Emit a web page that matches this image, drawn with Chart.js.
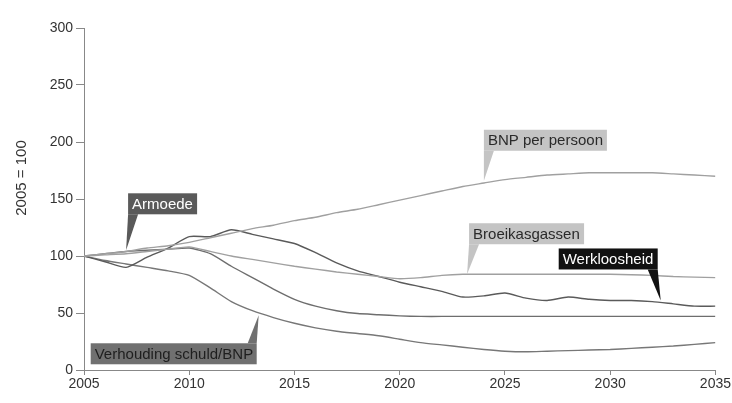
<!DOCTYPE html>
<html>
<head>
<meta charset="utf-8">
<script src="https://cdn.jsdelivr.net/npm/chart.js@4.4.0/dist/chart.umd.min.js"></script>
<style>
  html, body { margin: 0; padding: 0; background: #fff; }
  #wrap { width: 732px; height: 403px; position: relative; }
</style>
</head>
<body>
<div id="wrap"><canvas id="c"></canvas></div>
<script>
// ── Data (index 2005 = 100) ─────────────────────────────────────────────
var years = [2005, 2006, 2007, 2008, 2009, 2010, 2011, 2012, 2013, 2014, 2015,
             2016, 2017, 2018, 2019, 2020, 2021, 2022, 2023, 2024, 2025,
             2026, 2027, 2028, 2029, 2030, 2031, 2032, 2033, 2034, 2035];

var bnpPerPersoon = [100, 102, 104, 107, 109, 112, 116, 120, 124, 127, 131,
                     134, 138, 141, 145, 149, 153, 157, 161, 164, 167,
                     169, 171, 172, 173, 173, 173, 173, 172, 171, 170];
var armoede       = [100, 102, 104, 105, 106, 107, 102, 91, 81, 71, 62,
                     56, 52, 49.5, 48.5, 47.5, 47, 47, 47, 47, 47,
                     47, 47, 47, 47, 47, 47, 47, 47, 47, 47];
var broeikasgassen = [100, 101, 102, 104, 106, 108, 104, 100, 97, 94, 91,
                      88.5, 86, 84, 82, 80, 81, 83, 84, 84, 84,
                      84, 84, 84, 84, 84, 83.5, 83, 82, 81.5, 81];
var werkloosheid  = [100, 95, 90, 99, 107, 117, 117, 123, 119, 115, 111,
                     103, 94, 87, 82, 77, 73, 69, 64, 65, 67.5,
                     63, 61, 64, 62, 61, 61, 60, 58, 56, 56];
var schuldBnp     = [100, 96, 93, 90, 87, 83, 72, 60, 52, 46, 41,
                     37, 34, 32, 30, 27, 24, 22, 20, 18, 16.5,
                     16, 16.5, 17, 17.5, 18, 19, 20, 21, 22.5, 24];

var yTicks = [0, 50, 100, 150, 200, 250, 300];
var xTicks = [2005, 2010, 2015, 2020, 2025, 2030, 2035];
var yTitle = '2005 = 100';

// Callout labels: tip is a data point on the line, box offset from the tip
var callouts = [
  { text: 'Armoede',               year: 2007,   value: 105, bg: '#5a5a5a', fg: '#ffffff', side: 'left',  dx: 2,  dy: -57 },
  { text: 'BNP per persoon',       year: 2024,   value: 166, bg: '#c4c4c4', fg: '#2a2a2a', side: 'left',  dx: 0,  dy: -51 },
  { text: 'Broeikasgassen',        year: 2023.2, value: 84,  bg: '#c4c4c4', fg: '#2a2a2a', side: 'left',  dx: 2,  dy: -51 },
  { text: 'Werkloosheid',          year: 2032.4, value: 61,  bg: '#111111', fg: '#ffffff', side: 'right', dx: -3, dy: -52 },
  { text: 'Verhouding schuld/BNP', year: 2013.3, value: 48,  bg: '#707070', fg: '#1e1e1e', side: 'up',    dx: -2, dy: 28 }
];

function pts(vals) {
  return years.map(function (y, i) { return { x: y, y: vals[i] }; });
}

var FONT = '"Liberation Sans", Arial, sans-serif';

// ── Plugin: callout boxes with pointer + rotated y title ───────────────
var calloutPlugin = {
  id: 'callouts',
  afterDatasetsDraw: function (chart) {
    var ctx = chart.ctx;
    var xs = chart.scales.x, ys = chart.scales.y;
    ctx.save();
    ctx.font = '15px ' + FONT;
    callouts.forEach(function (c) {
      var tx = xs.getPixelForValue(c.year);
      var ty = ys.getPixelForValue(c.value);
      var w = Math.round(ctx.measureText(c.text).width) + 8;
      var h = 21;
      var left = c.side === 'left' ? tx + c.dx : tx + c.dx - w;
      var top = ty + c.dy;
      ctx.fillStyle = c.bg;
      ctx.fillRect(left, top, w, h);
      ctx.beginPath();
      if (c.side === 'left') {
        ctx.moveTo(left, top + h);
        ctx.lineTo(left + 10, top + h);
        ctx.lineTo(tx, ty);
      } else if (c.side === 'right') {
        ctx.moveTo(left + w - 10, top + h);
        ctx.lineTo(left + w, top + h);
        ctx.lineTo(tx, ty);
      } else {
        ctx.moveTo(left + w - 9, top);
        ctx.lineTo(left + w, top);
        ctx.lineTo(tx, ty);
      }
      ctx.closePath();
      ctx.fill();
      ctx.fillStyle = c.fg;
      ctx.textBaseline = 'middle';
      ctx.textAlign = 'left';
      ctx.fillText(c.text, left + 4, top + h / 2 + 1);
    });
    // y axis title, placed as in the reference
    ctx.translate(22, 178);
    ctx.rotate(-Math.PI / 2);
    ctx.font = '15px ' + FONT;
    ctx.fillStyle = '#333';
    ctx.textAlign = 'center';
    ctx.textBaseline = 'middle';
    ctx.fillText(yTitle, 0, 0);
    ctx.restore();
  }
};

function series(label, vals, color) {
  return {
    label: label,
    data: pts(vals),
    borderColor: color,
    borderWidth: 1.4,
    pointRadius: 0,
    tension: 0.2,
    fill: false
  };
}

new Chart(document.getElementById('c'), {
  type: 'line',
  data: {
    datasets: [
      series('BNP per persoon', bnpPerPersoon, '#a0a0a0'),
      series('Broeikasgassen', broeikasgassen, '#a0a0a0'),
      series('Armoede', armoede, '#6e6e6e'),
      series('Werkloosheid', werkloosheid, '#5a5a5a'),
      series('Verhouding schuld/BNP', schuldBnp, '#777777')
    ]
  },
  options: {
    responsive: true,
    maintainAspectRatio: false,
    animation: false,
    layout: { padding: { left: 0, right: 16, top: 28, bottom: 0 } },
    plugins: { legend: { display: false }, tooltip: { enabled: false } },
    scales: {
      x: {
        type: 'linear',
        min: 2005,
        max: 2035,
        afterBuildTicks: function (s) { s.ticks = xTicks.map(function (v) { return { value: v }; }); },
        afterFit: function (s) { s.height = 33; },
        ticks: {
          color: '#333',
          font: { family: FONT, size: 14 },
          padding: 1,
          maxRotation: 0,
          callback: function (v) { return String(v); }
        },
        grid: { drawOnChartArea: false, drawTicks: true, tickLength: 5, color: '#888' },
        border: { display: true, color: '#888', width: 1 }
      },
      y: {
        min: 0,
        max: 300,
        afterBuildTicks: function (s) { s.ticks = yTicks.map(function (v) { return { value: v }; }); },
        afterFit: function (s) { s.width = 84; },
        ticks: {
          color: '#333',
          font: { family: FONT, size: 14 },
          padding: 3
        },
        grid: { drawOnChartArea: false, drawTicks: true, tickLength: 8, color: '#888' },
        border: { display: true, color: '#888', width: 1 }
      }
    }
  },
  plugins: [calloutPlugin]
});
</script>
</body>
</html>
